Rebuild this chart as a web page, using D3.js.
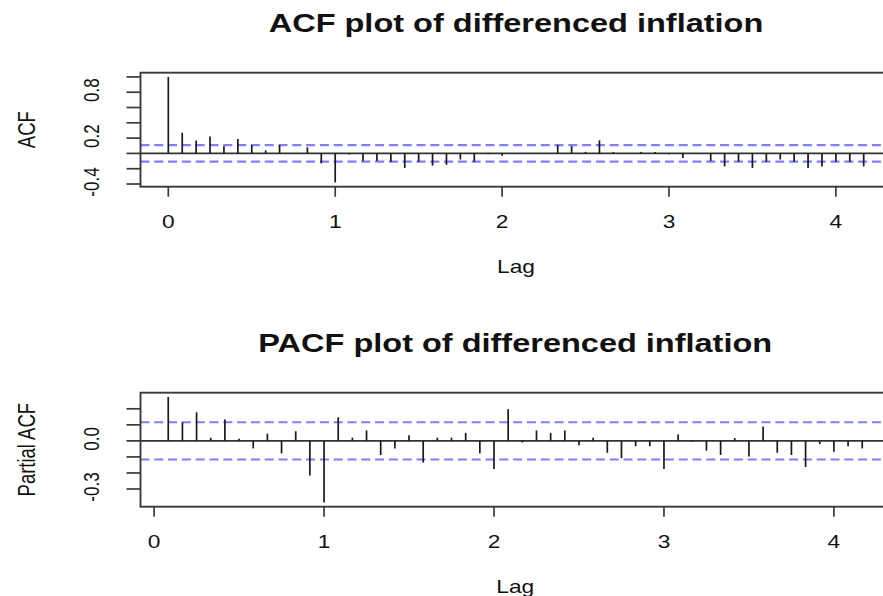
<!DOCTYPE html>
<html>
<head>
<meta charset="utf-8">
<script src="https://cdn.jsdelivr.net/npm/d3@7"></script>
<style>
  body { margin: 0; background: #fff; }
  text { font-family: "Liberation Sans", Arial, sans-serif; fill: #111; }
</style>
</head>
<body>
<div id="chart"></div>
<script>
// monthly series, lags shown in years
var freq = 12;

var acfValues = [1.0, 0.27, 0.17, 0.22, 0.095, 0.19, 0.11, 0.04, 0.11, 0.005,
    0.08, -0.13, -0.38, -0.015, -0.10, -0.10, -0.11, -0.19, -0.11, -0.16,
    -0.15, -0.08, -0.11, -0.01, -0.03, 0.003, -0.004, 0.003, 0.11, 0.095,
    0.02, 0.17, 0.02, 0.005, 0.02, 0.02, -0.01, -0.06, 0.003, -0.10,
    -0.17, -0.11, -0.19, -0.11, -0.08, -0.11, -0.19, -0.17, -0.11, -0.11,
    -0.17];

var pacfValues = [0.274, 0.116, 0.178, 0.02, 0.133, 0.014, -0.047, 0.045, -0.078, 0.06,
    -0.216, -0.384, 0.147, 0.02, 0.065, -0.088, -0.047, 0.035, -0.135, 0.02,
    0.02, 0.05, -0.078, -0.176, 0.198, -0.01, 0.065, 0.05, 0.065, -0.027,
    0.02, -0.074, -0.108, -0.033, -0.033, -0.176, 0.039, -0.005, -0.061, -0.088,
    0.018, -0.098, 0.09, -0.074, -0.088, -0.163, -0.02, -0.067, -0.033, -0.047];

var acfCI = 0.108, pacfCI = 0.116;

var xTicks = [0, 1, 2, 3, 4];
var acfYTicks = [-0.4, -0.2, 0, 0.2, 0.4, 0.6, 0.8, 1.0];
var acfYLabels = ["-0.4", "0.2", "0.8"];
var pacfYTicks = [-0.3, -0.2, -0.1, 0, 0.1, 0.2];
var pacfYLabels = ["-0.3", "0.0"];

var W = 883, H = 596;
var stretch = 1.3; // the picture is wider than tall

var svg = d3.select("#chart").append("svg")
    .attr("width", W)
    .attr("height", H);

svg.append("rect").attr("width", W).attr("height", H).attr("fill", "#fff");

function hText(x, y, str, size, bold) {
  svg.append("text")
      .attr("transform", "translate(" + x + "," + y + ") scale(" + stretch + ",1)")
      .attr("text-anchor", "middle")
      .style("font-size", size + "px")
      .style("font-weight", bold ? "bold" : "normal")
      .text(str);
}

function vText(x, y, str, size) {
  svg.append("text")
      .attr("transform", "translate(" + x + "," + y + ") scale(" + stretch + ",1) rotate(-90)")
      .attr("text-anchor", "middle")
      .attr("dy", "0.36em")
      .style("font-size", size + "px")
      .text(str);
}

function drawPanel(p) {
  var lags = p.values.map(function (d, i) { return (i + p.firstLag) / freq; });
  var xr = d3.extent(lags), xpad = 0.04 * (xr[1] - xr[0]);
  var lo = Math.min(d3.min(p.values), -p.ci), hi = Math.max(d3.max(p.values), p.ci);
  var ypad = 0.04 * (hi - lo);

  var x = d3.scaleLinear().domain([xr[0] - xpad, xr[1] + xpad]).range([p.left, p.right]);
  var y = d3.scaleLinear().domain([lo - ypad, hi + ypad]).range([p.bottom, p.top]);

  var g = svg.append("g");

  // confidence bands
  [p.ci, -p.ci].forEach(function (c) {
    g.append("line")
        .attr("x1", p.left).attr("x2", p.right)
        .attr("y1", y(c)).attr("y2", y(c))
        .attr("stroke", "#7f7fff")
        .attr("stroke-width", 2.2)
        .attr("stroke-dasharray", "9,4.8");
  });

  // zero line
  g.append("line")
      .attr("x1", p.left).attr("x2", p.right)
      .attr("y1", y(0)).attr("y2", y(0))
      .attr("stroke", "#333").attr("stroke-width", 1.6);

  // spikes
  g.selectAll(".spike")
      .data(p.values)
      .enter().append("line")
      .attr("class", "spike")
      .attr("x1", function (d, i) { return x(lags[i]); })
      .attr("x2", function (d, i) { return x(lags[i]); })
      .attr("y1", y(0))
      .attr("y2", function (d) { return y(d); })
      .attr("stroke", "#1a1a1a")
      .attr("stroke-width", 1.7);

  // box
  g.append("rect")
      .attr("x", p.left).attr("y", p.top)
      .attr("width", p.right - p.left).attr("height", p.bottom - p.top)
      .attr("fill", "none").attr("stroke", "#3a3a3a").attr("stroke-width", 1.9);

  // x axis ticks + labels
  xTicks.forEach(function (t) {
    g.append("line")
        .attr("x1", x(t)).attr("x2", x(t))
        .attr("y1", p.bottom).attr("y2", p.bottom + 10)
        .attr("stroke", "#3a3a3a").attr("stroke-width", 1.7);
    hText(x(t), p.bottom + 41, String(t), 17.5, false);
  });
  hText((p.left + p.right) / 2, p.bottom + 86, "Lag", 17.5, false);

  // y axis ticks + labels
  p.yTicks.forEach(function (t) {
    g.append("line")
        .attr("x1", p.left).attr("x2", p.left - 14)
        .attr("y1", y(t)).attr("y2", y(t))
        .attr("stroke", "#3a3a3a").attr("stroke-width", 1.7);
  });
  p.yLabels.forEach(function (s) {
    vText(91, y(+s) - 2, s, 17);
  });
  vText(26, (p.top + p.bottom) / 2, p.ylab, 18.5);

  // title
  hText((p.left + p.right) / 2, p.top - 41, p.title, 25, true);
}

drawPanel({
  values: acfValues, firstLag: 0, ci: acfCI,
  left: 140.5, right: 891.5, top: 72.7, bottom: 186.7,
  yTicks: acfYTicks, yLabels: acfYLabels,
  ylab: "ACF", title: "ACF plot of differenced inflation"
});

drawPanel({
  values: pacfValues, firstLag: 1, ci: pacfCI,
  left: 140.5, right: 890, top: 392.7, bottom: 506.7,
  yTicks: pacfYTicks, yLabels: pacfYLabels,
  ylab: "Partial ACF", title: "PACF plot of differenced inflation"
});
</script>
</body>
</html>
